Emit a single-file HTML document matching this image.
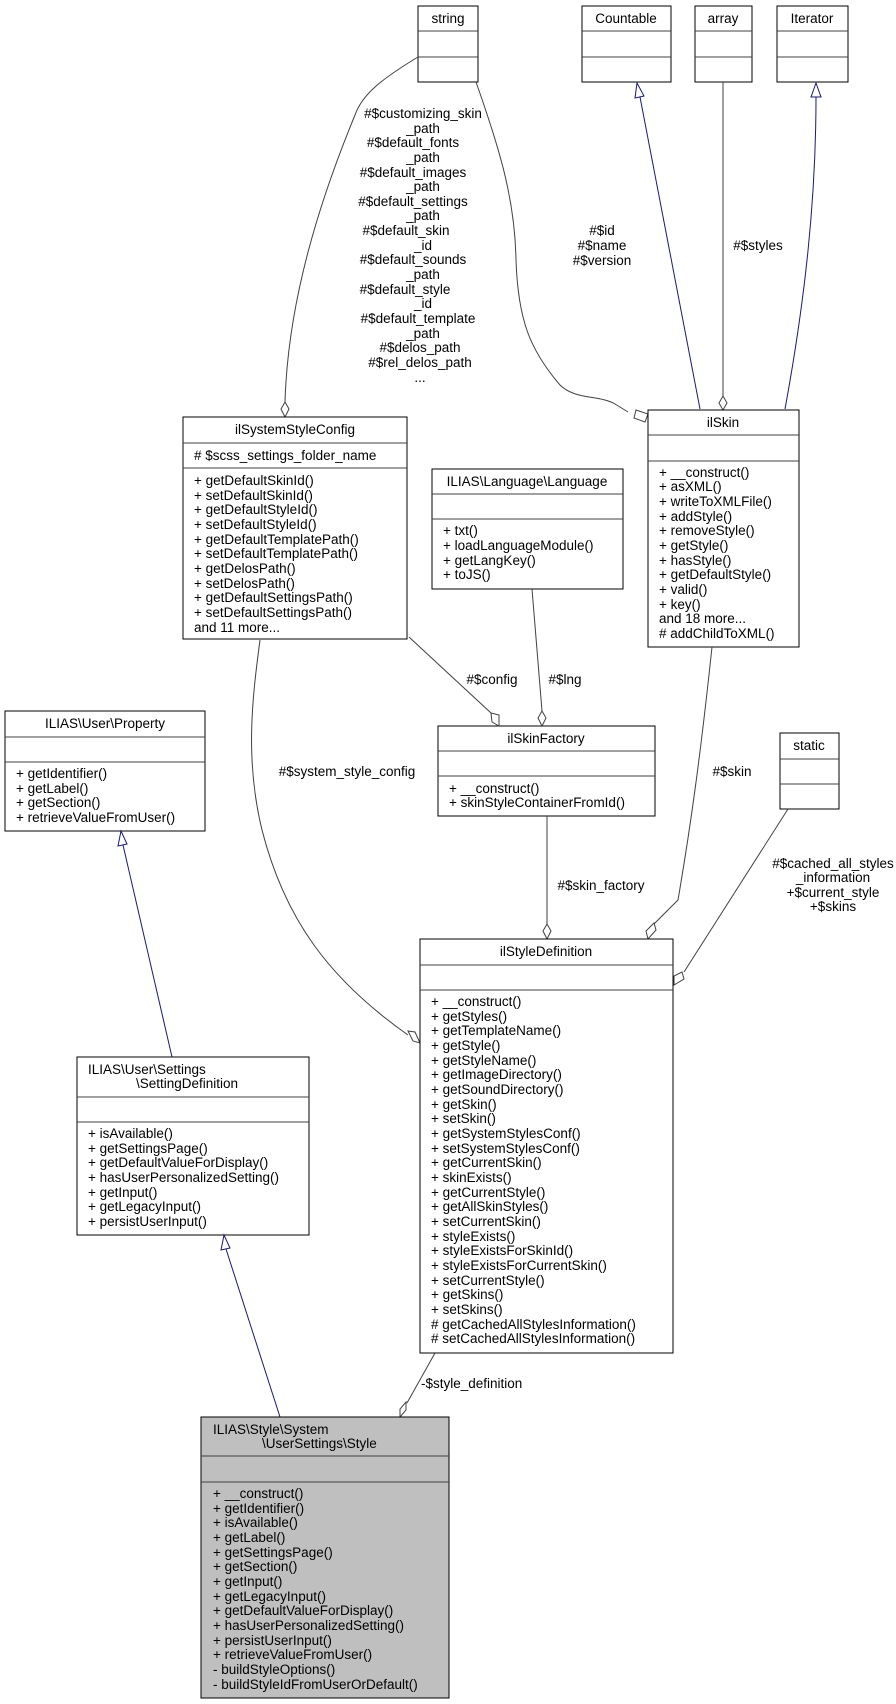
<!DOCTYPE html>
<html><head><meta charset="utf-8"><style>
html,body{margin:0;padding:0;background:#fff}
svg{display:block}
text{font-family:"Liberation Sans",sans-serif;font-size:13.5px;fill:#000}
.b{fill:#fff;stroke:#000;stroke-width:1}
.g{fill:#bfbfbf;stroke:#000;stroke-width:1}
.l{fill:none;stroke:#404040;stroke-width:1}
.bl{fill:none;stroke:#191970;stroke-width:1}
.d{fill:#fff;stroke:#404040;stroke-width:1}
.t{fill:#fff;stroke:#191970;stroke-width:1}
</style></head><body>
<svg width="896" height="1704" viewBox="0 0 896 1704" xmlns="http://www.w3.org/2000/svg">
<!-- string -->
<rect class="b" x="418" y="6" width="60" height="76"/><line class="l" x1="418" y1="31" x2="478" y2="31"/><line class="l" x1="418" y1="57" x2="478" y2="57"/>
<text x="448" y="23" text-anchor="middle">string</text>
<!-- Countable -->
<rect class="b" x="582" y="6" width="89" height="76"/><line class="l" x1="582" y1="31" x2="671" y2="31"/><line class="l" x1="582" y1="57" x2="671" y2="57"/>
<text x="626" y="23" text-anchor="middle">Countable</text>
<!-- array -->
<rect class="b" x="695" y="6" width="57" height="76"/><line class="l" x1="695" y1="31" x2="752" y2="31"/><line class="l" x1="695" y1="57" x2="752" y2="57"/>
<text x="723" y="23" text-anchor="middle">array</text>
<!-- Iterator -->
<rect class="b" x="777" y="6" width="71" height="76"/><line class="l" x1="777" y1="31" x2="848" y2="31"/><line class="l" x1="777" y1="57" x2="848" y2="57"/>
<text x="812" y="23" text-anchor="middle">Iterator</text>

<!-- edges top -->
<path class="l" d="M418,57 C380,80 362,95 355,115 C320,200 288,300 285,402"/>
<polygon class="d" points="285,402 289,409 285,417 281,409"/>
<path class="l" d="M476,82 C500,150 515,200 516,260 C518,320 530,350 560,385 C575,400 600,395 615,404 L628,412"/>
<polygon class="d" points="636,410 648,414 645,422 634,418"/>
<path class="bl" d="M700,409 L640,97"/>
<polygon class="t" points="637,83 644,96 635,98"/>
<line class="l" x1="723" y1="82" x2="723" y2="396"/>
<polygon class="d" points="723,396 727,403 723,410 719,403"/>
<path class="bl" d="M785,409 C805,300 816,200 816,97"/>
<polygon class="t" points="816,83 821,97 811,97"/>
<text x="602" y="235" text-anchor="middle">#$id</text>
<text x="602" y="250" text-anchor="middle">#$name</text>
<text x="602" y="265" text-anchor="middle">#$version</text>
<text x="758" y="250" text-anchor="middle">#$styles</text>
<g text-anchor="middle">
<text x="423" y="118">#$customizing_skin</text>
<text x="423" y="133">_path</text>
<text x="413" y="147">#$default_fonts</text>
<text x="423" y="162">_path</text>
<text x="413" y="177">#$default_images</text>
<text x="423" y="191">_path</text>
<text x="413" y="206">#$default_settings</text>
<text x="423" y="220">_path</text>
<text x="406" y="235">#$default_skin</text>
<text x="423" y="250">_id</text>
<text x="413" y="264">#$default_sounds</text>
<text x="423" y="279">_path</text>
<text x="405" y="294">#$default_style</text>
<text x="423" y="308">_id</text>
<text x="418" y="323">#$default_template</text>
<text x="423" y="338">_path</text>
<text x="420" y="352">#$delos_path</text>
<text x="420" y="367">#$rel_delos_path</text>
<text x="420" y="382">...</text>
</g>

<!-- ilSystemStyleConfig -->
<rect class="b" x="183" y="417" width="224" height="222"/><line class="l" x1="183" y1="443" x2="407" y2="443"/><line class="l" x1="183" y1="468" x2="407" y2="468"/>
<text x="295" y="434" text-anchor="middle">ilSystemStyleConfig</text>
<text x="194" y="460"># $scss_settings_folder_name</text>
<g><text x="194" y="485">+ getDefaultSkinId()</text>
<text x="194" y="500">+ setDefaultSkinId()</text>
<text x="194" y="514">+ getDefaultStyleId()</text>
<text x="194" y="529">+ setDefaultStyleId()</text>
<text x="194" y="544">+ getDefaultTemplatePath()</text>
<text x="194" y="558">+ setDefaultTemplatePath()</text>
<text x="194" y="573">+ getDelosPath()</text>
<text x="194" y="588">+ setDelosPath()</text>
<text x="194" y="602">+ getDefaultSettingsPath()</text>
<text x="194" y="617">+ setDefaultSettingsPath()</text>
<text x="194" y="632">and 11 more...</text></g>

<!-- ilSkin -->
<rect class="b" x="648" y="410" width="151" height="237"/><line class="l" x1="648" y1="435" x2="799" y2="435"/><line class="l" x1="648" y1="461" x2="799" y2="461"/>
<text x="723" y="427" text-anchor="middle">ilSkin</text>
<g><text x="659" y="477">+ __construct()</text>
<text x="659" y="491">+ asXML()</text>
<text x="659" y="506">+ writeToXMLFile()</text>
<text x="659" y="521">+ addStyle()</text>
<text x="659" y="535">+ removeStyle()</text>
<text x="659" y="550">+ getStyle()</text>
<text x="659" y="565">+ hasStyle()</text>
<text x="659" y="579">+ getDefaultStyle()</text>
<text x="659" y="594">+ valid()</text>
<text x="659" y="609">+ key()</text>
<text x="659" y="623">and 18 more...</text>
<text x="659" y="638"># addChildToXML()</text></g>

<!-- Language -->
<rect class="b" x="432" y="469" width="191" height="120"/><line class="l" x1="432" y1="494" x2="623" y2="494"/><line class="l" x1="432" y1="519" x2="623" y2="519"/>
<text x="527" y="486" text-anchor="middle">ILIAS\Language\Language</text>
<text x="443" y="535">+ txt()</text>
<text x="443" y="550">+ loadLanguageModule()</text>
<text x="443" y="565">+ getLangKey()</text>
<text x="443" y="579">+ toJS()</text>

<!-- Property -->
<rect class="b" x="5" y="711" width="200" height="120"/><line class="l" x1="5" y1="737" x2="205" y2="737"/><line class="l" x1="5" y1="762" x2="205" y2="762"/>
<text x="105" y="728" text-anchor="middle">ILIAS\User\Property</text>
<text x="16" y="778">+ getIdentifier()</text>
<text x="16" y="793">+ getLabel()</text>
<text x="16" y="807">+ getSection()</text>
<text x="16" y="822">+ retrieveValueFromUser()</text>

<!-- ilSkinFactory -->
<rect class="b" x="438" y="726" width="217" height="90"/><line class="l" x1="438" y1="751" x2="655" y2="751"/><line class="l" x1="438" y1="776" x2="655" y2="776"/>
<text x="546" y="743" text-anchor="middle">ilSkinFactory</text>
<text x="449" y="793">+ __construct()</text>
<text x="449" y="807">+ skinStyleContainerFromId()</text>

<!-- static -->
<rect class="b" x="780" y="733" width="59" height="76"/><line class="l" x1="780" y1="759" x2="839" y2="759"/><line class="l" x1="780" y1="784" x2="839" y2="784"/>
<text x="809" y="750" text-anchor="middle">static</text>

<!-- middle edges -->
<line class="l" x1="409" y1="637" x2="491" y2="713"/>
<polygon class="d" points="491,713 499,715 499,726 492,722"/>
<line class="l" x1="532" y1="589" x2="542" y2="711"/>
<polygon class="d" points="542,711 546,718 542,726 538,718"/>
<text x="492" y="684" text-anchor="middle">#$config</text>
<text x="565" y="684" text-anchor="middle">#$lng</text>
<path class="l" d="M260,640 C252,700 245,760 262,830 C285,920 330,980 408,1035"/>
<polygon class="d" points="408,1031 415,1032 420,1043 413,1041"/>
<text x="347" y="776" text-anchor="middle">#$system_style_config</text>
<path class="l" d="M712,647 C700,760 690,830 678,900 L654,924"/>
<polygon class="d" points="654,923 656,930 648,939 646,931"/>
<text x="732" y="776" text-anchor="middle">#$skin</text>
<line class="l" x1="547" y1="816" x2="547" y2="924"/>
<polygon class="d" points="547,924 551,931 547,939 543,931"/>
<text x="601" y="890" text-anchor="middle">#$skin_factory</text>
<path class="l" d="M788,809 L684,972"/>
<polygon class="d" points="682,972 684,979 674,985 674,976"/>
<g text-anchor="middle">
<text x="833" y="868">#$cached_all_styles</text>
<text x="833" y="882">_information</text>
<text x="833" y="897">+$current_style</text>
<text x="833" y="911">+$skins</text></g>

<!-- ilStyleDefinition -->
<rect class="b" x="420" y="939" width="253" height="414"/><line class="l" x1="420" y1="965" x2="673" y2="965"/><line class="l" x1="420" y1="990" x2="673" y2="990"/>
<text x="546" y="956" text-anchor="middle">ilStyleDefinition</text>
<g><text x="431" y="1006">+ __construct()</text>
<text x="431" y="1021">+ getStyles()</text>
<text x="431" y="1035">+ getTemplateName()</text>
<text x="431" y="1050">+ getStyle()</text>
<text x="431" y="1065">+ getStyleName()</text>
<text x="431" y="1079">+ getImageDirectory()</text>
<text x="431" y="1094">+ getSoundDirectory()</text>
<text x="431" y="1109">+ getSkin()</text>
<text x="431" y="1123">+ setSkin()</text>
<text x="431" y="1138">+ getSystemStylesConf()</text>
<text x="431" y="1153">+ setSystemStylesConf()</text>
<text x="431" y="1167">+ getCurrentSkin()</text>
<text x="431" y="1182">+ skinExists()</text>
<text x="431" y="1197">+ getCurrentStyle()</text>
<text x="431" y="1211">+ getAllSkinStyles()</text>
<text x="431" y="1226">+ setCurrentSkin()</text>
<text x="431" y="1241">+ styleExists()</text>
<text x="431" y="1255">+ styleExistsForSkinId()</text>
<text x="431" y="1270">+ styleExistsForCurrentSkin()</text>
<text x="431" y="1285">+ setCurrentStyle()</text>
<text x="431" y="1299">+ getSkins()</text>
<text x="431" y="1314">+ setSkins()</text>
<text x="431" y="1329"># getCachedAllStylesInformation()</text>
<text x="431" y="1343"># setCachedAllStylesInformation()</text></g>

<!-- SettingDefinition -->
<rect class="b" x="77" y="1057" width="232" height="178"/><line class="l" x1="77" y1="1097" x2="309" y2="1097"/><line class="l" x1="77" y1="1122" x2="309" y2="1122"/>
<text x="88" y="1074">ILIAS\User\Settings</text>
<text x="136" y="1088">\SettingDefinition</text>
<g><text x="88" y="1138">+ isAvailable()</text>
<text x="88" y="1153">+ getSettingsPage()</text>
<text x="88" y="1167">+ getDefaultValueForDisplay()</text>
<text x="88" y="1182">+ hasUserPersonalizedSetting()</text>
<text x="88" y="1197">+ getInput()</text>
<text x="88" y="1211">+ getLegacyInput()</text>
<text x="88" y="1226">+ persistUserInput()</text></g>

<path class="bl" d="M172,1057 L123,845"/>
<polygon class="t" points="121,831 127,844 118,846"/>
<path class="bl" d="M280,1417 L226,1249"/>
<polygon class="t" points="224,1235 230,1248 221,1250"/>
<line class="l" x1="435" y1="1353" x2="407" y2="1403"/>
<polygon class="d" points="406,1402 406,1410 400,1417 400,1409"/>
<text x="421" y="1388">-$style_definition</text>

<!-- Style -->
<rect class="g" x="201" y="1417" width="248" height="281"/><line class="l" x1="201" y1="1456" x2="449" y2="1456"/><line class="l" x1="201" y1="1482" x2="449" y2="1482"/>
<text x="213" y="1434">ILIAS\Style\System</text>
<text x="262" y="1448">\UserSettings\Style</text>
<g><text x="213" y="1498">+ __construct()</text>
<text x="213" y="1513">+ getIdentifier()</text>
<text x="213" y="1527">+ isAvailable()</text>
<text x="213" y="1542">+ getLabel()</text>
<text x="213" y="1557">+ getSettingsPage()</text>
<text x="213" y="1571">+ getSection()</text>
<text x="213" y="1586">+ getInput()</text>
<text x="213" y="1601">+ getLegacyInput()</text>
<text x="213" y="1615">+ getDefaultValueForDisplay()</text>
<text x="213" y="1630">+ hasUserPersonalizedSetting()</text>
<text x="213" y="1645">+ persistUserInput()</text>
<text x="213" y="1659">+ retrieveValueFromUser()</text>
<text x="213" y="1674">- buildStyleOptions()</text>
<text x="213" y="1689">- buildStyleIdFromUserOrDefault()</text></g>
</svg>
</body></html>
